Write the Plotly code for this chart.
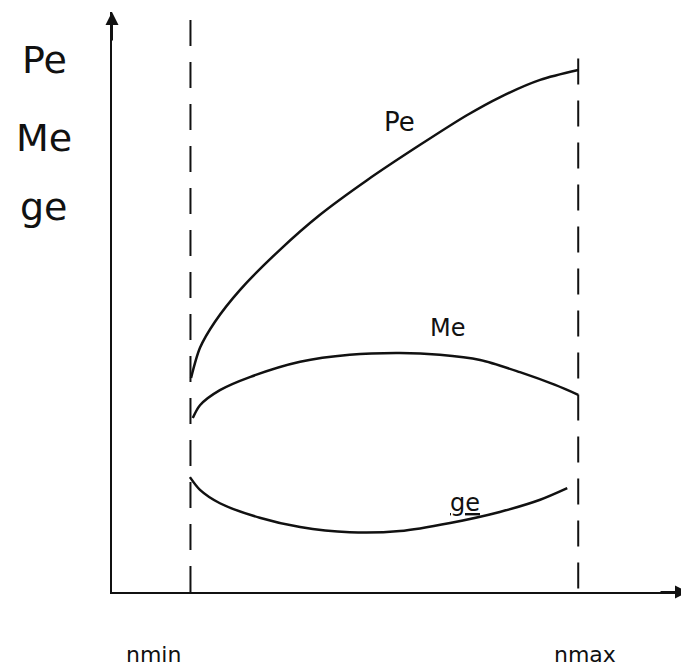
import plotly.graph_objects as go

# Engine speed range markers (x units: % of plotted axis span)
n_min = 13.6
n_max = 80.8

# Effective power Pe
pe_n = [13.7, 15.25, 17.85, 22.2, 29.1, 36.0, 44.2, 53.4, 61.5, 67.2, 74.2, 80.8]
pe_v = [36.9, 42.1, 46.6, 52.1, 59.0, 65.0, 71.0, 77.1, 82.2, 85.3, 88.3, 90.0]

# Effective torque Me
me_n = [14.0, 15.25, 18.7, 24.0, 32.6, 41.2, 49.9, 56.8, 63.8, 70.7, 76.8, 80.8]
me_v = [30.0, 32.2, 34.8, 37.1, 39.7, 40.9, 41.2, 40.9, 40.0, 37.9, 35.7, 34.0]

# Specific fuel consumption ge
ge_n = [13.5, 15.25, 18.7, 25.6, 32.6, 41.2, 49.9, 58.6, 67.2, 74.2, 78.9]
ge_v = [19.8, 17.6, 15.3, 12.8, 11.2, 10.3, 10.5, 11.9, 13.8, 15.9, 17.9]

y_labels = ["Pe", "Me", "ge"]
x_labels = ["nmin", "nmax"]

INK = "#111111"
FONT = "DejaVu Sans"

# page offset of 8px (body margin)
W, H = 681, 664
L, T, B = 104, 4, 80
PW, PH = W - L, H - T - B  # 577 x 580

def px(xp):  # page pixel -> paper
    return (xp - 8 - L) / PW

def py(yp):
    return (H - B - (yp - 8)) / PH

fig = go.Figure()

# dashed limits
fig.add_trace(go.Scatter(x=[n_min, n_min], y=[98.6, 0], mode="lines",
                         line=dict(color=INK, width=2, dash="26px,16px"),
                         hoverinfo="skip", showlegend=False))
fig.add_trace(go.Scatter(x=[n_max, n_max], y=[92.0, 0], mode="lines",
                         line=dict(color=INK, width=2, dash="26px,16px"),
                         hoverinfo="skip", showlegend=False))

for xs, ys in [(pe_n, pe_v), (me_n, me_v), (ge_n, ge_v)]:
    fig.add_trace(go.Scatter(x=xs, y=ys, mode="lines",
                             line=dict(color=INK, width=2.5, shape="spline", smoothing=0.8),
                             hoverinfo="skip", showlegend=False))

ann = []
# axis arrowheads
ann.append(dict(x=0, y=1, xref="paper", yref="paper", ax=0, ay=30, text="",
                showarrow=True, arrowhead=2, arrowsize=1.3, arrowwidth=2, arrowcolor=INK))
ann.append(dict(x=1, y=0, xref="paper", yref="paper", ax=-30, ay=0, text="",
                showarrow=True, arrowhead=2, arrowsize=1.3, arrowwidth=2, arrowcolor=INK))

# left stacked labels
for lbl, yp in zip(y_labels, [60, 138, 207]):
    ann.append(dict(x=px(44), y=py(yp), xref="paper", yref="paper",
                    xanchor="center", yanchor="middle",
                    text=lbl, showarrow=False, font=dict(family=FONT, size=38, color=INK)))

# curve labels
ann.append(dict(x=49.9, y=81.0, text="Pe", showarrow=False,
                xanchor="center", yanchor="middle",
                font=dict(family=FONT, size=26, color=INK)))
ann.append(dict(x=58.1, y=45.5, text="Me", showarrow=False,
                xanchor="center", yanchor="middle",
                font=dict(family=FONT, size=24, color=INK)))
ann.append(dict(x=61.2, y=15.3, text="<u>ge</u>", showarrow=False,
                xanchor="center", yanchor="middle",
                font=dict(family=FONT, size=24, color=INK)))

# speed labels
for lbl, cx in zip(x_labels, [153, 585]):
    ann.append(dict(x=px(cx), y=py(654), xref="paper", yref="paper",
                    xanchor="center", yanchor="middle",
                    text=lbl, showarrow=False, font=dict(family=FONT, size=22, color=INK)))

fig.update_layout(
    width=W, height=H,
    margin=dict(l=L, r=0, t=T, b=B),
    paper_bgcolor="white", plot_bgcolor="white",
    annotations=ann,
    xaxis=dict(range=[0, 100], showline=True, linecolor=INK, linewidth=2,
               showgrid=False, zeroline=False, showticklabels=False, ticks=""),
    yaxis=dict(range=[0, 100], showline=True, linecolor=INK, linewidth=2,
               showgrid=False, zeroline=False, showticklabels=False, ticks=""),
)

fig.write_html("out.html")
